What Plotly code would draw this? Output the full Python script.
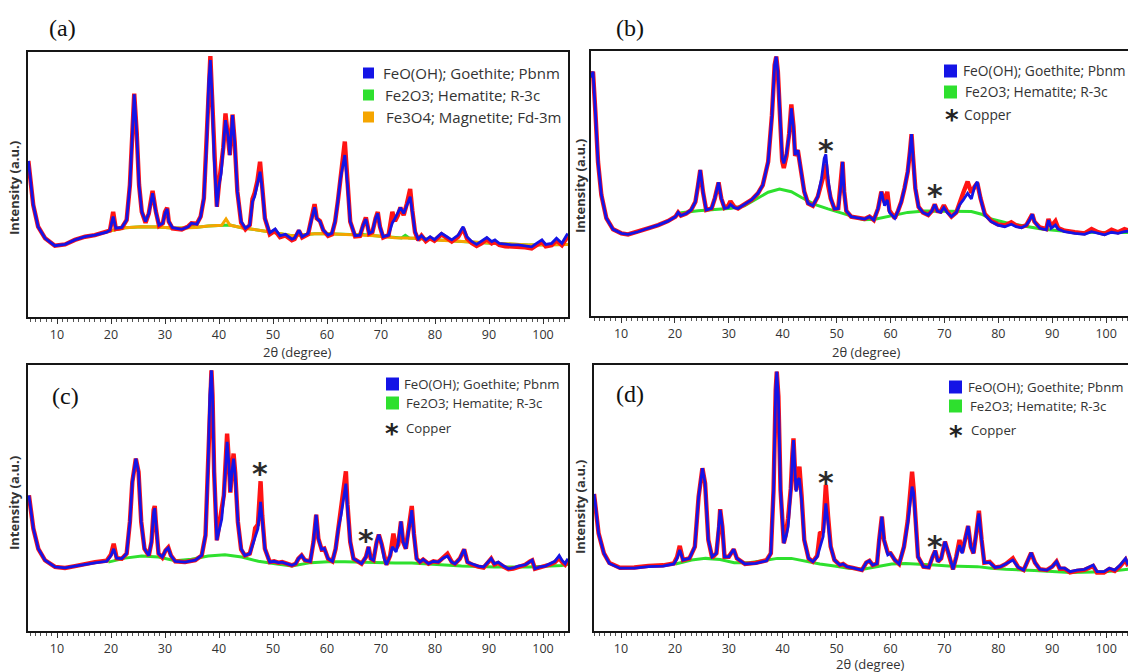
import plotly.graph_objects as go

# ---------------- data: 2-theta (deg) and intensity (a.u.) ----------------
# (a) sample with goethite + hematite + magnetite refinement
A_THETA = [4.7, 5.6, 6.5, 7.8, 9.6, 11.5, 13.3, 15.2, 17.0, 19.2, 19.8, 20.4, 20.9, 22.0, 22.9, 23.5, 24.0, 24.3, 24.75, 25.2,
           25.7, 26.4, 27.0, 27.7, 28.3, 28.9, 29.6, 30.0, 30.4, 30.7, 31.4, 33.1, 34.3, 34.9, 35.9, 36.6, 37.2, 37.7, 38.1, 38.4,
           38.7, 39.1, 39.6, 40.0, 40.4, 40.8, 41.2, 41.7, 42.0, 42.3, 42.5, 42.9, 43.4, 44.1, 44.9, 45.7, 46.2, 46.6, 47.1, 47.6,
           48.0, 48.5, 49.4, 50.4, 51.3, 52.3, 53.5, 54.0, 54.8, 55.4, 56.5, 57.2, 57.7, 58.1, 58.7, 59.3, 60.2, 60.9, 61.5, 62.0,
           62.5, 62.9, 63.3, 63.8, 64.3, 65.2, 66.1, 66.7, 67.2, 67.8, 68.4, 69.0, 69.4, 69.8, 70.4, 71.4, 72.1, 72.6, 73.1, 73.6,
           74.2, 74.8, 75.4, 75.8, 76.3, 76.9, 77.5, 78.3, 79.1, 79.9, 81.2, 82.2, 83.1, 84.3, 85.2, 85.9, 86.8, 87.7, 88.6, 89.6,
           90.5, 91.1, 91.9, 93.0, 94.2, 95.4, 96.7, 97.9, 98.8, 99.8, 100.5, 101.6, 102.5, 103.5, 104.4, 104.6]
A_CALC = [58.9, 42.3, 34.1, 29.7, 26.9, 27.4, 29.1, 30.3, 30.9, 32.0, 32.8, 37.9, 33.5, 33.8, 36.6, 49.8, 71.2, 84.0, 69.9, 49.8,
          39.7, 36.0, 39.1, 46.7, 39.7, 34.7, 35.4, 39.1, 40.8, 36.0, 33.7, 33.1, 34.0, 35.4, 35.0, 37.9, 44.8, 64.9, 88.8, 97.0,
          83.8, 59.9, 41.6, 49.8, 54.2, 63.6, 74.3, 68.0, 61.1, 69.9, 76.2, 66.2, 47.3, 36.0, 33.5, 34.7, 43.5, 45.4, 49.8, 54.8,
          48.6, 37.2, 31.8, 33.2, 30.7, 31.2, 29.4, 29.8, 32.8, 30.3, 31.6, 37.2, 41.4, 37.2, 36.0, 32.8, 30.9, 31.6, 36.0, 43.5,
          52.3, 56.7, 61.1, 49.8, 36.0, 30.7, 30.9, 34.7, 37.0, 31.6, 32.2, 37.2, 39.1, 34.1, 30.3, 30.9, 35.5, 37.2, 39.1, 41.3,
          39.1, 42.3, 45.4, 39.7, 32.2, 29.4, 30.7, 29.1, 30.3, 29.2, 31.6, 30.3, 29.1, 30.9, 34.1, 30.3, 28.5, 27.4, 28.5, 30.0,
          28.5, 29.1, 27.8, 27.4, 27.2, 27.2, 26.9, 26.5, 27.8, 29.1, 27.4, 27.8, 29.7, 27.8, 30.9, 31.5]
A_OBS = [58.9, 42.3, 34.1, 29.7, 26.9, 27.4, 29.1, 30.3, 30.9, 32.0, 32.6, 39.7, 33.2, 33.6, 36.6, 49.8, 71.2, 84.3, 69.9, 49.8,
         39.7, 35.6, 39.1, 47.6, 39.9, 34.4, 35.4, 39.6, 41.2, 36.0, 33.4, 33.0, 34.2, 35.4, 35.2, 37.9, 44.8, 64.9, 88.8, 98.5,
         83.8, 59.9, 41.6, 50.3, 55.8, 64.0, 76.8, 68.4, 61.1, 70.3, 76.4, 66.2, 47.3, 35.6, 33.1, 34.7, 44.5, 46.8, 51.2, 58.6,
         50.6, 37.2, 31.2, 32.6, 30.1, 30.8, 29.0, 29.4, 32.6, 30.0, 31.2, 37.2, 42.6, 37.2, 36.2, 32.8, 30.6, 31.2, 36.0, 43.5,
         52.6, 57.5, 66.2, 51.0, 36.0, 30.4, 30.6, 34.7, 37.6, 31.4, 32.0, 37.2, 39.6, 34.1, 30.0, 30.9, 39.7, 36.2, 38.2, 41.3,
         38.4, 42.8, 48.3, 40.2, 32.0, 29.0, 30.7, 28.6, 29.8, 28.8, 31.2, 29.8, 28.5, 30.3, 33.5, 29.7, 27.9, 26.8, 27.8, 29.4,
         27.8, 28.4, 27.2, 26.7, 26.6, 26.6, 26.3, 25.9, 27.1, 28.4, 26.7, 27.1, 28.9, 27.1, 29.9, 30.4]
A_BG_THETA = [19.8, 22.6, 25.7, 28.8, 31.9, 34.2, 34.9, 35.6, 38.0, 40.5, 41.3, 42.0, 44.2, 47.3, 50.4, 53.5, 57.7, 60.2, 64.0, 65.6,
              66.3, 67.0, 68.9, 72.6, 73.8, 74.5, 75.2, 76.3, 80.0, 84.9, 91.1, 97.3, 104.6]
A_BG_HEM = [32.5, 33.7, 34.1, 34.0, 33.5, 33.7, 34.4, 33.8, 34.3, 34.6, 34.6, 34.7, 33.7, 32.8, 31.8, 30.7, 31.4, 31.4, 31.2, 31.0,
            31.5, 31.0, 30.7, 29.9, 29.8, 30.8, 29.8, 29.7, 29.1, 28.5, 27.7, 27.2, 27.4]
A_BG_MAG = [32.5, 33.7, 34.1, 34.0, 33.5, 33.7, 33.7, 33.8, 34.3, 34.6, 37.0, 34.7, 33.7, 32.8, 31.8, 30.7, 31.4, 31.4, 31.2, 31.0,
            31.0, 31.0, 30.7, 29.9, 29.8, 29.9, 29.8, 29.7, 29.1, 28.5, 27.7, 27.2, 27.4]

# (b)
B_THETA = [4.45, 4.8, 5.24, 5.73, 6.35, 7.28, 8.52, 10.06, 11.3, 13.15, 15.0, 16.9, 18.7, 20.1, 20.6, 21.1, 22.1, 23.0, 23.8, 24.3,
           24.7, 25.2, 25.8, 26.8, 27.4, 28.1, 28.6, 29.2, 29.9, 30.3, 31.0, 31.7, 32.9, 34.2, 35.4, 36.3, 37.3, 38.0, 38.5, 38.8,
           39.1, 39.5, 39.9, 40.2, 40.7, 41.2, 41.6, 42.0, 42.3, 42.8, 43.3, 44.0, 44.7, 45.6, 46.5, 47.2, 47.7, 48.0, 48.4, 48.9,
           49.6, 50.3, 50.8, 51.1, 51.4, 51.8, 52.7, 54.0, 55.2, 56.1, 56.9, 57.7, 58.3, 58.9, 59.4, 59.8, 60.8, 61.4, 62.0, 62.6,
           63.2, 63.6, 63.9, 64.2, 64.6, 65.2, 66.0, 67.0, 67.7, 68.2, 68.7, 69.3, 69.9, 70.5, 71.3, 72.2, 72.8, 73.5, 74.3, 75.0,
           75.6, 76.1, 76.7, 77.5, 78.7, 79.9, 81.2, 82.4, 83.3, 84.3, 85.2, 85.8, 86.3, 86.7, 87.7, 88.9, 89.3, 89.8, 90.6, 91.1,
           92.3, 94.2, 96.0, 97.3, 98.5, 99.7, 101.0, 102.2, 103.4, 104.1]
B_CALC = [90.0, 92.2, 77.1, 58.2, 45.7, 36.9, 32.7, 31.2, 30.8, 31.8, 33.1, 34.3, 35.8, 37.5, 39.1, 37.9, 38.7, 40.0, 43.1, 49.4,
          55.1, 46.9, 40.0, 40.6, 44.4, 50.4, 44.4, 40.6, 40.9, 42.1, 40.9, 40.6, 42.1, 43.8, 46.3, 49.4, 58.2, 75.8, 94.7, 97.9,
          92.2, 73.3, 59.5, 57.6, 61.4, 68.3, 78.4, 70.8, 60.8, 62.6, 55.7, 46.9, 42.5, 41.6, 45.0, 52.0, 59.5, 61.0, 52.0, 44.4,
          40.4, 40.6, 49.4, 58.2, 46.9, 39.7, 37.5, 36.9, 36.6, 37.5, 36.2, 40.6, 46.9, 41.6, 43.8, 39.1, 36.9, 39.7, 43.1, 48.2,
          54.5, 62.0, 68.6, 59.5, 48.2, 41.2, 39.1, 38.1, 39.7, 42.1, 39.6, 39.1, 40.9, 39.1, 37.5, 39.1, 41.9, 43.8, 46.3, 44.2,
          48.8, 50.7, 44.4, 38.1, 35.6, 34.3, 33.7, 34.6, 33.7, 33.3, 34.3, 36.2, 38.4, 35.6, 33.1, 32.5, 36.2, 33.1, 34.3, 32.8,
          31.8, 31.2, 30.8, 31.8, 31.2, 30.6, 31.6, 31.2, 31.8, 32.0]
B_OBS = [90.0, 92.2, 77.1, 58.2, 45.7, 36.9, 32.7, 31.2, 30.8, 31.8, 33.1, 34.3, 35.8, 37.5, 39.1, 37.9, 38.7, 40.0, 43.1, 49.4,
         55.1, 46.9, 40.0, 40.6, 44.4, 50.4, 44.4, 40.8, 41.6, 43.3, 41.2, 40.6, 42.1, 43.8, 46.3, 49.4, 58.2, 75.8, 94.7, 97.9,
         92.2, 73.3, 58.5, 55.8, 60.4, 69.0, 79.8, 71.5, 60.4, 62.6, 55.7, 46.9, 42.5, 41.6, 45.0, 50.0, 54.0, 57.5, 49.6, 44.4,
         40.4, 40.6, 49.4, 58.2, 46.9, 39.7, 37.5, 36.9, 36.6, 37.5, 36.2, 40.6, 46.9, 43.0, 46.9, 39.8, 36.9, 39.7, 43.1, 48.2,
         54.5, 62.0, 68.6, 59.5, 48.2, 41.2, 39.1, 38.1, 39.7, 42.1, 39.6, 39.4, 41.8, 39.5, 37.5, 39.1, 43.0, 46.5, 50.7, 46.5,
         48.8, 50.2, 44.4, 38.5, 35.9, 34.6, 34.2, 35.4, 34.2, 33.6, 34.3, 36.2, 38.4, 35.6, 33.4, 32.8, 36.6, 33.8, 35.8, 33.2,
         32.2, 31.6, 31.2, 32.8, 31.6, 31.0, 32.6, 31.6, 32.8, 32.3]
B_BG_THETA = [20.5, 21.2, 24.3, 27.4, 30.5, 32.9, 35.4, 37.3, 39.4, 41.6, 43.5, 45.9, 48.4, 50.9, 53.4, 55.0, 57.1, 60.2, 63.2, 66.3,
              69.4, 72.5, 75.0, 76.9, 78.7, 81.8, 84.9, 88.0, 94.2, 104.1]
B_BG_HEM = [38.2, 39.0, 39.7, 40.3, 40.7, 41.6, 44.5, 46.7, 47.9, 46.9, 44.7, 42.1, 40.4, 38.8, 37.3, 36.3, 36.5, 37.8, 39.1, 39.6,
            39.6, 39.6, 39.4, 38.4, 36.6, 35.0, 34.0, 32.8, 31.6, 31.5]

# (c)
C_THETA = [4.8, 5.62, 6.54, 7.78, 9.63, 11.48, 13.33, 15.19, 17.04, 19.2, 20.0, 20.5, 21.05, 22.0, 22.9, 23.5, 23.95, 24.6, 25.1, 25.6,
           26.2, 27.0, 27.5, 27.9, 28.1, 28.3, 28.8, 29.5, 30.1, 30.6, 31.1, 31.9, 33.7, 35.6, 36.8, 37.5, 38.0, 38.3, 38.6, 38.8,
           39.1, 39.6, 40.1, 40.5, 40.9, 41.2, 41.5, 41.8, 42.1, 42.4, 42.7, 43.0, 43.5, 44.1, 44.8, 45.7, 46.4, 46.7, 47.2, 47.7,
           48.0, 48.5, 49.4, 50.2, 51.0, 51.7, 52.5, 53.5, 54.2, 54.7, 55.3, 55.9, 56.9, 57.5, 58.0, 58.4, 59.0, 59.5, 60.2, 61.0,
           61.6, 62.1, 62.6, 63.0, 63.5, 63.8, 64.3, 64.9, 65.8, 66.4, 67.2, 67.7, 68.1, 68.6, 69.2, 69.6, 70.1, 70.6, 71.0, 71.7,
           72.1, 72.3, 72.8, 73.2, 73.7, 74.1, 74.6, 75.2, 75.7, 76.1, 76.6, 77.2, 77.8, 78.8, 79.7, 80.6, 81.5, 82.3, 83.1, 83.7,
           84.6, 85.4, 86.0, 86.8, 88.0, 89.0, 89.9, 90.4, 91.0, 91.7, 92.7, 93.6, 94.5, 95.4, 96.7, 97.6, 98.0, 98.5, 99.4, 100.4,
           101.3, 102.2, 103.0, 103.5, 104.1, 104.6]
C_CALC = [51.0, 38.5, 30.9, 26.6, 24.1, 23.7, 24.4, 25.1, 25.6, 26.2, 28.4, 30.9, 27.4, 27.2, 29.1, 41.0, 56.0, 64.8, 59.8, 41.0,
          30.9, 28.4, 33.5, 44.7, 46.2, 41.0, 29.1, 27.8, 30.3, 31.2, 28.4, 26.2, 25.9, 26.6, 28.4, 36.0, 63.5, 88.6, 98.0, 88.6,
          59.8, 34.1, 38.5, 42.0, 51.0, 63.5, 71.1, 63.5, 52.3, 59.8, 64.8, 58.5, 41.0, 30.9, 28.4, 29.1, 33.5, 36.2, 38.5, 48.5,
          41.0, 30.9, 25.9, 26.2, 25.7, 25.9, 25.3, 24.7, 25.3, 27.2, 28.4, 26.6, 26.2, 33.5, 43.7, 34.7, 30.7, 31.0, 27.2, 26.2,
          30.9, 38.5, 43.5, 48.5, 55.4, 46.0, 33.5, 27.2, 25.9, 25.3, 27.8, 31.6, 27.2, 26.6, 33.5, 36.2, 32.8, 27.2, 24.9, 28.4,
          31.6, 31.0, 29.7, 33.5, 41.2, 33.5, 30.9, 38.5, 45.4, 36.0, 27.2, 25.9, 26.9, 25.3, 26.2, 25.9, 27.4, 28.2, 25.9, 25.3,
          27.2, 30.7, 25.9, 25.3, 24.4, 24.1, 26.2, 27.2, 25.3, 25.9, 24.4, 23.4, 23.7, 24.4, 24.9, 26.2, 26.6, 23.4, 24.1, 24.4,
          25.3, 26.2, 28.4, 26.6, 25.3, 27.2]
C_OBS = [51.0, 38.5, 30.9, 26.6, 24.1, 23.7, 24.4, 25.3, 25.9, 26.4, 28.8, 32.8, 27.4, 27.2, 29.1, 41.0, 56.0, 64.8, 59.8, 41.0,
         30.9, 28.4, 33.5, 45.5, 47.0, 41.0, 29.1, 27.6, 30.3, 31.4, 28.4, 26.2, 25.9, 26.6, 28.4, 36.0, 63.5, 88.6, 98.0, 88.6,
         59.8, 34.1, 39.5, 46.0, 51.0, 65.0, 74.2, 64.5, 52.0, 60.5, 66.7, 59.5, 41.0, 30.6, 28.4, 29.1, 34.5, 38.7, 40.0, 56.3,
         43.5, 30.9, 25.9, 26.2, 25.7, 25.9, 25.3, 24.7, 25.3, 27.2, 28.4, 26.6, 26.2, 33.5, 43.7, 34.7, 30.7, 31.0, 27.2, 26.2,
         30.9, 38.5, 44.0, 50.0, 60.0, 47.5, 33.5, 27.2, 25.9, 25.3, 27.8, 31.6, 27.2, 26.6, 33.5, 36.2, 32.8, 27.2, 24.9, 28.4,
         33.0, 36.6, 31.0, 32.5, 41.2, 33.5, 30.9, 38.5, 47.0, 36.5, 27.2, 25.9, 26.9, 25.3, 26.2, 25.9, 27.8, 29.0, 26.0, 25.3,
         27.2, 30.7, 25.9, 25.0, 24.2, 23.8, 26.0, 27.2, 25.0, 25.6, 24.2, 23.2, 23.5, 24.2, 24.9, 26.2, 26.6, 23.4, 23.9, 24.2,
         25.0, 25.9, 27.5, 26.0, 24.9, 26.4]
C_BG_THETA = [19.5, 22.6, 25.7, 28.8, 31.9, 34.9, 38.0, 41.1, 44.2, 47.3, 50.4, 53.5, 57.0, 60.2, 63.3, 66.4, 69.5, 72.6, 75.7, 78.8,
              81.9, 84.9, 91.1, 97.3, 103.5, 104.6]
C_BG_HEM = [25.9, 27.4, 28.2, 27.8, 26.4, 27.0, 28.2, 28.7, 27.8, 26.2, 25.3, 24.4, 25.7, 26.0, 26.0, 25.8, 25.8, 25.6, 25.6, 25.2,
            24.6, 24.4, 24.1, 24.1, 24.6, 25.1]

# (d)
D_THETA = [5.0, 5.2, 5.84, 6.83, 7.83, 9.81, 12.47, 15.1, 17.8, 19.8, 20.4, 20.9, 21.5, 22.7, 23.7, 24.4, 25.1, 25.6, 26.2, 26.9,
           27.7, 28.2, 28.4, 28.8, 29.2, 30.0, 30.9, 31.5, 33.0, 35.0, 37.0, 37.8, 38.3, 38.7, 38.9, 39.2, 39.6, 40.2, 40.6, 41.0,
           41.5, 41.8, 42.0, 42.3, 42.5, 42.8, 43.1, 43.5, 44.0, 44.8, 45.6, 46.4, 46.9, 47.5, 48.0, 48.4, 48.9, 49.6, 50.6, 51.2,
           51.9, 53.2, 54.7, 55.5, 56.1, 56.7, 57.5, 57.9, 58.4, 58.8, 59.5, 60.0, 60.8, 61.6, 62.5, 63.2, 63.6, 64.0, 64.3, 64.7,
           65.1, 66.1, 67.1, 67.8, 68.3, 68.8, 69.4, 70.1, 70.8, 71.6, 72.2, 72.8, 73.3, 73.8, 74.4, 74.9, 75.4, 75.9, 76.4, 76.9,
           77.4, 78.4, 79.4, 80.4, 81.4, 82.7, 83.7, 84.7, 85.5, 86.1, 86.8, 87.7, 89.0, 90.0, 90.8, 91.4, 92.3, 93.3, 94.6, 96.0,
           97.6, 98.3, 99.6, 100.6, 101.6, 102.6, 103.6, 104.1]
D_CALC = [51.5, 48.5, 36.7, 29.2, 25.4, 23.6, 23.6, 24.2, 24.4, 25.2, 27.3, 30.5, 26.7, 27.3, 31.7, 50.5, 61.2, 55.5, 34.2, 27.9,
          29.2, 39.2, 45.5, 39.2, 27.9, 27.9, 30.7, 27.3, 25.2, 25.4, 26.4, 29.2, 53.0, 90.6, 97.5, 88.1, 53.0, 33.0, 35.5, 39.2,
          53.0, 65.5, 71.8, 59.3, 52.4, 56.8, 57.4, 49.2, 34.2, 27.3, 26.1, 27.9, 31.7, 35.5, 48.0, 41.7, 31.7, 26.7, 24.8, 25.2,
          24.2, 23.6, 22.9, 25.7, 26.4, 24.8, 25.4, 34.2, 43.0, 34.2, 28.6, 29.2, 26.7, 25.2, 31.7, 40.5, 46.7, 54.3, 51.8, 39.2,
          27.9, 24.2, 23.9, 27.9, 30.2, 26.1, 27.3, 33.6, 29.2, 23.2, 27.9, 32.3, 29.2, 34.2, 39.5, 31.7, 29.2, 36.7, 44.2, 34.2,
          25.7, 25.7, 23.9, 24.2, 25.2, 26.7, 23.9, 22.9, 26.7, 29.4, 25.7, 23.2, 22.9, 24.2, 26.1, 23.6, 23.6, 22.3, 22.9, 23.2,
          24.8, 22.3, 22.3, 23.6, 22.9, 24.8, 27.3, 24.8]
D_OBS = [51.5, 48.5, 36.7, 29.2, 25.6, 23.8, 23.9, 24.5, 24.7, 25.4, 27.8, 32.0, 26.7, 27.3, 31.7, 50.5, 61.2, 55.5, 34.2, 27.6,
         29.2, 39.2, 45.8, 39.2, 27.9, 27.9, 30.7, 27.3, 25.2, 25.6, 26.6, 29.2, 53.0, 90.6, 97.5, 88.1, 53.0, 33.0, 36.5, 42.4,
         53.5, 66.5, 72.4, 59.3, 53.0, 58.5, 61.8, 51.0, 34.2, 27.3, 26.1, 28.3, 36.7, 37.5, 54.9, 43.5, 31.7, 26.7, 24.8, 25.2,
         24.2, 23.6, 22.9, 25.7, 26.4, 24.8, 25.4, 34.2, 43.0, 34.2, 29.4, 29.2, 26.7, 25.2, 31.7, 41.5, 50.0, 59.9, 53.0, 39.2,
         27.9, 24.2, 23.9, 27.9, 30.2, 26.1, 27.3, 33.6, 29.2, 23.2, 27.9, 34.2, 29.6, 34.2, 39.5, 31.7, 29.2, 36.7, 45.2, 34.2,
         25.7, 26.0, 23.9, 24.2, 25.2, 27.3, 23.9, 22.9, 26.7, 29.4, 25.7, 23.2, 22.9, 24.2, 26.1, 23.4, 23.4, 22.0, 22.6, 23.0,
         24.4, 22.0, 22.0, 23.3, 22.6, 24.4, 26.8, 24.4]
D_BG_THETA = [20.1, 23.1, 25.7, 28.4, 31.0, 33.7, 36.3, 39.0, 41.6, 44.3, 46.9, 49.6, 52.2, 54.9, 57.5, 60.2, 62.8, 65.5, 68.1, 70.8,
              73.4, 76.1, 78.7, 81.4, 86.7, 93.3, 99.9, 104.1]
D_BG_HEM = [25.2, 26.7, 27.3, 26.9, 25.7, 25.7, 26.4, 27.3, 27.3, 26.1, 25.2, 24.4, 23.6, 23.2, 24.2, 25.2, 25.4, 25.2, 24.8, 24.4,
            24.4, 24.2, 23.6, 23.2, 22.7, 22.0, 22.3, 23.2]

# copper reflections marked with an asterisk: (2-theta, height)
B_CU = [(48.0, 65.2), (68.3, 48.2)]
C_CU = [(47.6, 61.7), (67.3, 36.6)]
D_CU = [(48.0, 58.6), (68.3, 34.5)]

X_TICKS = [10, 20, 30, 40, 50, 60, 70, 80, 90, 100]

for th, *ys in [(A_THETA, A_CALC, A_OBS), (B_THETA, B_CALC, B_OBS), (C_THETA, C_CALC, C_OBS), (D_THETA, D_CALC, D_OBS),
                (A_BG_THETA, A_BG_HEM, A_BG_MAG), (B_BG_THETA, B_BG_HEM), (C_BG_THETA, C_BG_HEM), (D_BG_THETA, D_BG_HEM)]:
    for y in ys:
        assert len(th) == len(y), (len(th), len(y))

# ---------------- figure geometry (page pixels) ----------------
W, H = 1128, 672


def fx(p):
    return p / W


def fy(p):
    return 1 - p / H


C_BLUE = '#1414e6'
C_RED = '#ff1414'
C_GREEN = '#2ee02e'
C_ORANGE = '#f5a500'
SANS = 'Open Sans'
SERIF = 'Liberation Serif'
STAR = 'DejaVu Sans'

panels = [
    dict(label='(a)', lab=(62, 28), box=(28, 568, 52, 317), xr=[4.63, 104.63], closed=True,
         th=A_THETA, calc=A_CALC, obs=A_OBS,
         bgs=[(A_BG_THETA, A_BG_HEM, C_GREEN), (A_BG_THETA, A_BG_MAG, C_ORANGE)],
         ytitle=(14, 188), xtitle=(297, 352),
         legend=dict(sq=(363, 11), fs=15, rows=[(73, 'FeO(OH); Goethite; Pbnm', C_BLUE, 381),
                                                (95, 'Fe2O3; Hematite; R-3c', C_GREEN, 383),
                                                (117, 'Fe3O4; Magnetite; Fd-3m', C_ORANGE, 384)],
                     copper=None),
         cu=[]),
    dict(label='(b)', lab=(630, 28), box=(591, 1128, 51, 316), xr=[4.43, 104.06], closed=False,
         th=B_THETA, calc=B_CALC, obs=B_OBS,
         bgs=[(B_BG_THETA, B_BG_HEM, C_GREEN)],
         ytitle=(580, 186), xtitle=(866, 352),
         legend=dict(sq=(944, 13), fs=13.8, rows=[(71, 'FeO(OH); Goethite; Pbnm', C_BLUE, 961),
                                                  (92, 'Fe2O3; Hematite; R-3c', C_GREEN, 963)],
                     copper=(952, 114, 962)),
         cu=B_CU),
    dict(label='(c)', lab=(65, 396), box=(28, 568, 365, 631), xr=[4.63, 104.63], closed=True,
         th=C_THETA, calc=C_CALC, obs=C_OBS,
         bgs=[(C_BG_THETA, C_BG_HEM, C_GREEN)],
         ytitle=(14, 503), xtitle=None,
         legend=dict(sq=(386, 13), fs=13.2, rows=[(384, 'FeO(OH); Goethite; Pbnm', C_BLUE, 402),
                                                  (403, 'Fe2O3; Hematite; R-3c', C_GREEN, 404)],
                     copper=(392, 428, 404)),
         cu=C_CU),
    dict(label='(d)', lab=(630, 394), box=(594, 1128, 365, 631), xr=[4.99, 104.06], closed=False,
         th=D_THETA, calc=D_CALC, obs=D_OBS,
         bgs=[(D_BG_THETA, D_BG_HEM, C_GREEN)],
         ytitle=(580, 507), xtitle=(870, 664),
         legend=dict(sq=(949, 13), fs=13.2, rows=[(387, 'FeO(OH); Goethite; Pbnm', C_BLUE, 966),
                                                  (406, 'Fe2O3; Hematite; R-3c', C_GREEN, 968)],
                     copper=(956, 430, 969)),
         cu=D_CU),
]

fig = go.Figure()
layout = dict(width=W, height=H, margin=dict(l=0, r=0, t=0, b=0), paper_bgcolor='white', plot_bgcolor='white',
              showlegend=False, font=dict(family=SANS, color='#333333'))
annotations = []
shapes = []

for i, p in enumerate(panels):
    sfx = '' if i == 0 else str(i + 1)
    xa, ya = 'x' + sfx, 'y' + sfx
    x0, x1, y0, y1 = p['box']
    layout['xaxis' + sfx] = dict(
        domain=[fx(x0), fx(x1)], range=p['xr'], anchor=ya,
        showline=True, linecolor='#161616', linewidth=2, mirror=True,
        ticks='outside', ticklen=5, tickwidth=1, tickcolor='#333333',
        tickmode='array', tickvals=X_TICKS,
        minor=dict(dtick=1, tick0=0, ticks='outside', ticklen=3, tickwidth=1, tickcolor='#555555'),
        showgrid=False, zeroline=False,
        tickfont=dict(family=SANS, size=12.5, color='#333333'),
    )
    layout['yaxis' + sfx] = dict(
        domain=[fy(y1), fy(y0)], range=[0, 100], anchor=xa,
        showline=True, linecolor='#161616', linewidth=2, mirror=p['closed'],
        ticks='', showticklabels=False, showgrid=False, zeroline=False,
    )

    for bth, bval, col in p['bgs']:
        fig.add_trace(go.Scatter(x=bth, y=bval, mode='lines', line=dict(color=col, width=3),
                                 xaxis=xa, yaxis=ya, hoverinfo='skip'))
    fig.add_trace(go.Scatter(x=p['th'], y=p['obs'], mode='lines', line=dict(color=C_RED, width=4.4),
                             xaxis=xa, yaxis=ya, name='observed'))
    fig.add_trace(go.Scatter(x=p['th'], y=p['calc'], mode='lines', line=dict(color=C_BLUE, width=2.8),
                             xaxis=xa, yaxis=ya, name='calculated'))

    # copper asterisks above their reflections
    for cx, cy in p['cu']:
        annotations.append(dict(x=cx, y=cy, xref=xa, yref=ya, text='<b>*</b>', showarrow=False,
                                font=dict(family=STAR, size=30, color='#2a2a2a'),
                                xanchor='center', yanchor='middle', yshift=-7))

    # panel letter
    annotations.append(dict(x=fx(p['lab'][0]), y=fy(p['lab'][1]), xref='paper', yref='paper', text=p['label'],
                            showarrow=False, font=dict(family=SERIF, size=24, color='#111111'),
                            xanchor='center', yanchor='middle'))
    # axis titles
    annotations.append(dict(x=fx(p['ytitle'][0]), y=fy(p['ytitle'][1]), xref='paper', yref='paper',
                            text='<b>Intensity (a.u.)</b>', textangle=-90, showarrow=False,
                            font=dict(family=SANS, size=13, color='#333333'),
                            xanchor='center', yanchor='middle'))
    if p['xtitle']:
        annotations.append(dict(x=fx(p['xtitle'][0]), y=fy(p['xtitle'][1]), xref='paper', yref='paper',
                                text='2θ (degree)', showarrow=False,
                                font=dict(family=SANS, size=13, color='#333333'),
                                xanchor='center', yanchor='middle'))

    # phase key
    lg = p['legend']
    sx, ss = lg['sq']
    for ry, txt, col, tx in lg['rows']:
        shapes.append(dict(type='rect', xref='paper', yref='paper', x0=fx(sx), x1=fx(sx + ss),
                           y0=fy(ry + ss / 2), y1=fy(ry - ss / 2), fillcolor=col, line=dict(width=0)))
        annotations.append(dict(x=fx(tx), y=fy(ry), xref='paper', yref='paper', text=txt, showarrow=False,
                                font=dict(family=SANS, size=lg['fs'], color='#333333'),
                                xanchor='left', yanchor='middle'))
    if lg['copper']:
        ax_, ay_, tx = lg['copper']
        annotations.append(dict(x=fx(ax_), y=fy(ay_), xref='paper', yref='paper', text='<b>*</b>', showarrow=False,
                                font=dict(family=STAR, size=26, color='#222222'),
                                xanchor='center', yanchor='middle', yshift=-6))
        annotations.append(dict(x=fx(tx), y=fy(ay_), xref='paper', yref='paper', text='Copper', showarrow=False,
                                font=dict(family=SANS, size=lg['fs'], color='#333333'),
                                xanchor='left', yanchor='middle'))

layout['annotations'] = annotations
layout['shapes'] = shapes
fig.update_layout(**layout)
fig.write_html('out.html')
